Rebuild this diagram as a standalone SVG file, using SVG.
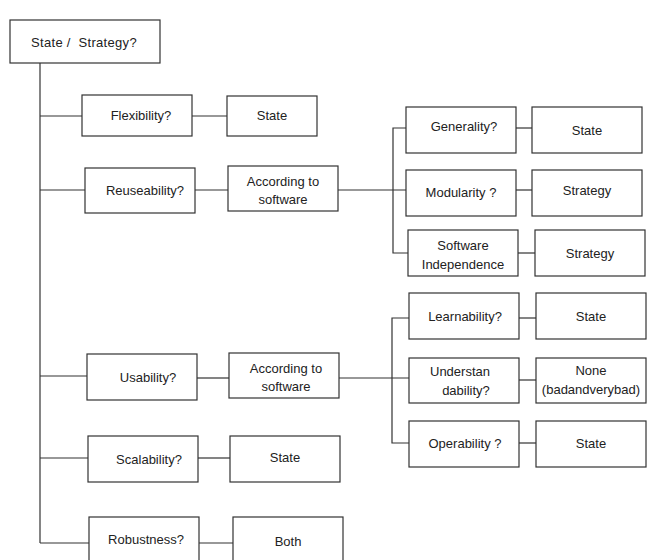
<svg xmlns="http://www.w3.org/2000/svg" width="649" height="560" viewBox="0 0 649 560">
  <style>
    rect.box { fill: #fff; stroke: #333; stroke-width: 1.2; }
    text { font-family: "Liberation Sans", Arial, sans-serif; font-size: 13px; fill: #222; text-anchor: middle; }
    .links line, .links polyline { stroke: #333; stroke-width: 1.2; fill: none; }
  </style>
  <rect width="649" height="560" fill="#fff"/>

  <!-- connectors -->
  <g class="links">
    <line x1="40" y1="63" x2="40" y2="543"/>
    <line x1="40" y1="116" x2="82" y2="116"/>
    <line x1="192" y1="116" x2="227" y2="116"/>
    <line x1="40" y1="190" x2="85" y2="190"/>
    <line x1="195" y1="190" x2="228" y2="190"/>
    <line x1="338" y1="190" x2="406" y2="190"/>
    <polyline points="406,128 393,128 393,253 408,253"/>
    <line x1="516" y1="128" x2="532" y2="128"/>
    <line x1="516" y1="190" x2="532" y2="190"/>
    <line x1="518" y1="253" x2="535" y2="253"/>
    <line x1="40" y1="376" x2="87" y2="376"/>
    <line x1="197" y1="378" x2="229" y2="378"/>
    <line x1="339" y1="378" x2="409" y2="378"/>
    <polyline points="409,318 392,318 392,443 409,443"/>
    <line x1="519" y1="318" x2="536" y2="318"/>
    <line x1="519" y1="380" x2="536" y2="380"/>
    <line x1="519" y1="443" x2="536" y2="443"/>
    <line x1="40" y1="458" x2="88" y2="458"/>
    <line x1="198" y1="458" x2="230" y2="458"/>
    <line x1="40" y1="543" x2="89" y2="543"/>
    <line x1="199" y1="543" x2="233" y2="543"/>
  </g>

  <g id="root">
    <rect class="box" x="10" y="20" width="150" height="43"/>
    <text x="84" y="47" font-size="15" letter-spacing="0.3" xml:space="preserve">State /  Strategy?</text>
  </g>

  <g id="flexibility">
    <rect class="box" x="82" y="95" width="110" height="41"/>
    <text x="141" y="120">Flexibility?</text>
  </g>
  <g id="flexibility-state">
    <rect class="box" x="227" y="96" width="90" height="40"/>
    <text x="272" y="120">State</text>
  </g>

  <g id="reuseability">
    <rect class="box" x="85" y="168" width="110" height="45"/>
    <text x="145" y="195">Reuseability?</text>
  </g>
  <g id="reuse-according">
    <rect class="box" x="228" y="166" width="110" height="45"/>
    <text x="283" y="186">According to</text>
    <text x="283" y="204">software</text>
  </g>

  <g id="generality">
    <rect class="box" x="406" y="107" width="110" height="46"/>
    <text x="464" y="131">Generality?</text>
  </g>
  <g id="generality-state">
    <rect class="box" x="532" y="107" width="110" height="46"/>
    <text x="587" y="135">State</text>
  </g>

  <g id="modularity">
    <rect class="box" x="406" y="170" width="110" height="46"/>
    <text x="461" y="197">Modularity ?</text>
  </g>
  <g id="modularity-strategy">
    <rect class="box" x="532" y="170" width="110" height="46"/>
    <text x="587" y="195">Strategy</text>
  </g>

  <g id="software-independence">
    <rect class="box" x="408" y="230" width="110" height="46"/>
    <text x="463" y="250">Software</text>
    <text x="463" y="269">Independence</text>
  </g>
  <g id="independence-strategy">
    <rect class="box" x="535" y="230" width="110" height="46"/>
    <text x="590" y="258">Strategy</text>
  </g>

  <g id="usability">
    <rect class="box" x="87" y="354" width="110" height="46"/>
    <text x="148" y="382">Usability?</text>
  </g>
  <g id="usability-according">
    <rect class="box" x="229" y="353" width="110" height="45"/>
    <text x="286" y="373">According to</text>
    <text x="286" y="391">software</text>
  </g>

  <g id="learnability">
    <rect class="box" x="409" y="293" width="110" height="46"/>
    <text x="465" y="321">Learnability?</text>
  </g>
  <g id="learnability-state">
    <rect class="box" x="536" y="293" width="110" height="46"/>
    <text x="591" y="321">State</text>
  </g>

  <g id="understandability">
    <rect class="box" x="409" y="358" width="110" height="45"/>
    <text x="460" y="376">Understan</text>
    <text x="466" y="395">dability?</text>
  </g>
  <g id="understandability-none">
    <rect class="box" x="536" y="358" width="110" height="45"/>
    <text x="591" y="375">None</text>
    <text x="591" y="394" font-size="12.5">(badandverybad)</text>
  </g>

  <g id="operability">
    <rect class="box" x="409" y="421" width="110" height="46"/>
    <text x="465" y="448">Operability ?</text>
  </g>
  <g id="operability-state">
    <rect class="box" x="536" y="421" width="110" height="46"/>
    <text x="591" y="448">State</text>
  </g>

  <g id="scalability">
    <rect class="box" x="88" y="436" width="110" height="46"/>
    <text x="149" y="464">Scalability?</text>
  </g>
  <g id="scalability-state">
    <rect class="box" x="230" y="436" width="110" height="46"/>
    <text x="285" y="462">State</text>
  </g>

  <g id="robustness">
    <rect class="box" x="89" y="517" width="110" height="50"/>
    <text x="146" y="544">Robustness?</text>
  </g>
  <g id="robustness-both">
    <rect class="box" x="233" y="517" width="110" height="50"/>
    <text x="288" y="546">Both</text>
  </g>
</svg>
